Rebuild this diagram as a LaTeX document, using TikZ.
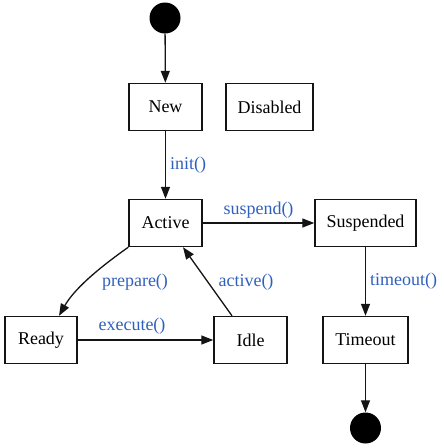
\documentclass[tikz,border=0pt]{standalone}
\usepackage{fontspec}
\setmainfont{Liberation Serif}
\usetikzlibrary{arrows.meta}
\definecolor{lbl}{RGB}{48,96,190}
\definecolor{edge}{RGB}{20,20,20}
\begin{document}
\begin{tikzpicture}[x=1pt,y=-1pt,
  box/.style={draw=edge,line width=1.4pt,minimum width=73pt,minimum height=47pt,inner sep=0pt,font=\fontsize{18}{21}\selectfont},
  dot/.style={circle,fill=black,minimum size=31pt,inner sep=0pt},
  conn/.style={draw=edge,line width=1.3pt,-{Triangle[length=12pt,width=9pt]}},
  elabel/.style={text=lbl,font=\fontsize{18}{21}\selectfont,inner sep=0pt}]
\useasboundingbox (0,0) rectangle (444,448);
\node[dot] (start) at (165,18) {};
\node[box] (new) at (165.5,107) {New};
\node[box,minimum width=87pt] (disabled) at (269.5,107) {Disabled};
\node[box] (active) at (165.5,223) {Active};
\node[box,minimum width=101pt] (suspended) at (365.5,223) {Suspended};
\node[box,minimum width=72pt] (ready) at (41,340) {Ready};
\node[box] (idle) at (250.5,340) {Idle};
\node[box,minimum width=85pt] (timeout) at (365.5,340) {Timeout};
\node[dot] (end) at (365.5,428) {};

\draw[conn] (start) -- (new);
\draw[conn] (new) -- node[elabel,right=4pt] (linit) {init()} (active);
\draw[conn] (active) -- node[elabel,above=4pt] (lsusp) {suspend()} (suspended);
\draw[conn] (suspended) -- node[elabel,right=4pt] (ltime) {timeout()} (timeout);
\draw[conn] (timeout) -- (end);
\draw[conn] (active.south west) .. controls (106,263) and (76,286) .. ([xshift=18pt]ready.north);
\draw[conn] ([xshift=-18.5pt]idle.north) -- ([xshift=17.5pt]active.south);
\draw[conn] (ready) -- (idle);
\node[elabel] (lprep) at (135,282) {prepare()};
\node[elabel] (lact) at (246,282) {active()};
\node[elabel] (lexec) at (132,326) {execute()};
\end{tikzpicture}
\end{document}
